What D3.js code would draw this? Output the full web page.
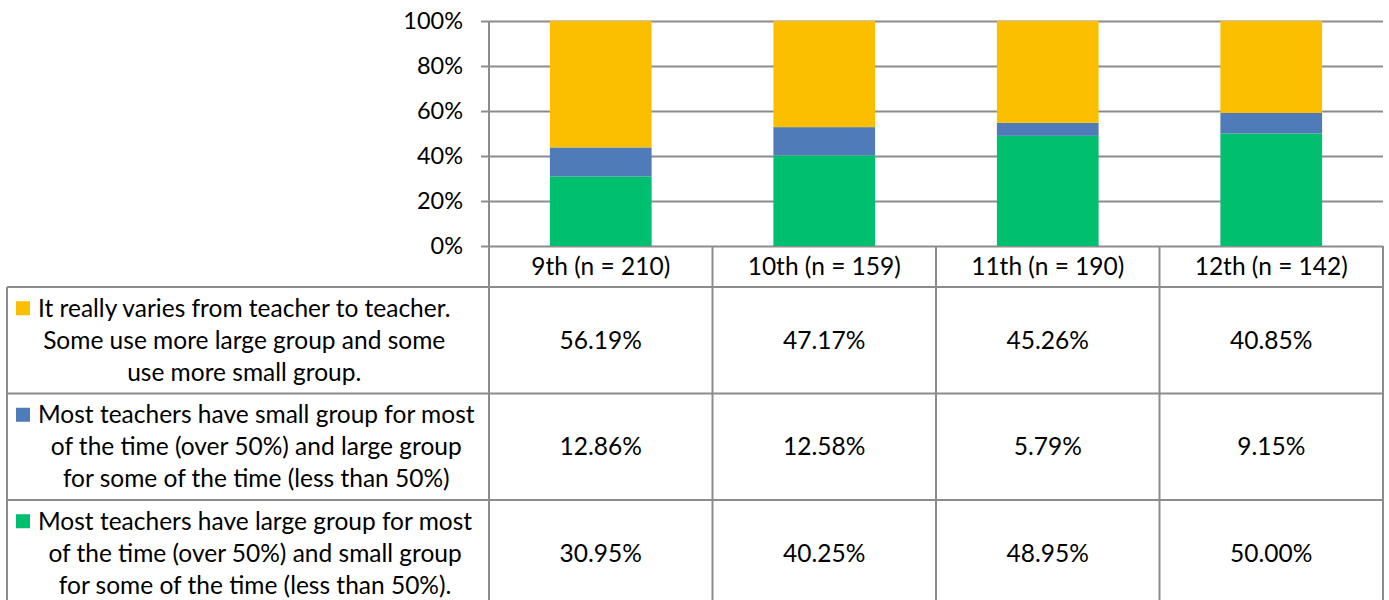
<!DOCTYPE html>
<html lang="en">
<head>
<meta charset="UTF-8">
<title>Group size by grade</title>
<style>
  body { margin: 0; background: #fff; }
  svg { display: block; font-family: Lato, "Open Sans", sans-serif; }
</style>
</head>
<body>
<div id="chart"></div>
<script src="https://d3js.org/d3.v7.min.js"></script>
<script>
// grades on the x axis
const categories = ["9th (n = 210)", "10th (n = 159)", "11th (n = 190)", "12th (n = 142)"];

// series values, percent
const variesValues = [56.19, 47.17, 45.26, 40.85];
const smallMostValues = [12.86, 12.58, 5.79, 9.15];
const largeMostValues = [30.95, 40.25, 48.95, 50.00];

// legend text, already wrapped like the original
const variesLabel = ["It really varies from teacher to teacher.", "Some use more large group and some", "use more small group."];
const smallMostLabel = ["Most teachers have small group for most", "of the time (over 50%) and large group", "for some of the time (less than 50%)"];
const largeMostLabel = ["Most teachers have large group for most", "of the time (over 50%) and small group", "for some of the time (less than 50%)."];

const yTicks = [0, 20, 40, 60, 80, 100];

const width = 1389, height = 600;
const plotLeft = 489, plotRight = 1383, plotTop = 21, plotBottom = 246;
const headerBottom = 287, rowH = 106.5, tableLeft = 7;
const lineColor = "#8c8c8c";
const fontSize = 24.5;

// bottom to top in the stack
const series = [
  { key: "large", values: largeMostValues, label: largeMostLabel, color: "#00bf6f" },
  { key: "small", values: smallMostValues, label: smallMostLabel, color: "#4f7cb8" },
  { key: "varies", values: variesValues, label: variesLabel, color: "#fbbf00" }
];

const rows = categories.map((c, i) => {
  const r = { cat: c };
  series.forEach(s => r[s.key] = s.values[i]);
  return r;
});

const svg = d3.select("#chart").append("svg")
  .attr("width", width)
  .attr("height", height);

const x = d3.scaleBand().domain(categories).range([plotLeft, plotRight]).paddingInner(0).paddingOuter(0);
const y = d3.scaleLinear().domain([0, 100]).range([plotBottom, plotTop]);
const barW = x.bandwidth() * 0.455;

// gridlines + y labels
const yAxis = svg.append("g")
  .attr("transform", `translate(${plotLeft},0)`)
  .call(d3.axisLeft(y).tickValues(yTicks).tickSize(-(plotRight - plotLeft)).tickPadding(26).tickFormat(d => d + "%"));
yAxis.select(".domain").remove();
yAxis.selectAll(".tick line").attr("x1", -8).attr("stroke", lineColor).attr("stroke-width", 2);
yAxis.selectAll(".tick text").attr("font-size", 23.5).attr("fill", "#000").attr("font-family", "Lato, sans-serif");

// stacked bars
const stacked = d3.stack().keys(series.map(s => s.key))(rows);
svg.append("g").selectAll("g")
  .data(stacked)
  .join("g")
    .attr("fill", (d, i) => series[i].color)
  .selectAll("rect")
  .data(d => d)
  .join("rect")
    .attr("x", d => x(d.data.cat) + (x.bandwidth() - barW) / 2)
    .attr("y", d => y(d[1]))
    .attr("width", barW)
    .attr("height", d => y(d[0]) - y(d[1]));

// data table
const table = svg.append("g");
const tableRows = series.slice().reverse();

// header text
table.selectAll(".hdr")
  .data(categories)
  .join("text")
    .attr("x", d => x(d) + x.bandwidth() / 2)
    .attr("y", (plotBottom + headerBottom) / 2)
    .attr("dy", "0.35em")
    .attr("text-anchor", "middle")
    .attr("font-size", fontSize)
    .text(d => d);

// horizontal lines
const hLines = [headerBottom, headerBottom + rowH, headerBottom + 2 * rowH];
table.selectAll(".hl")
  .data(hLines)
  .join("line")
    .attr("x1", tableLeft).attr("x2", plotRight)
    .attr("y1", d => d).attr("y2", d => d)
    .attr("stroke", lineColor).attr("stroke-width", 2);

// vertical lines
const vLines = categories.map(c => x(c)).concat([plotRight]);
table.selectAll(".vl")
  .data(vLines)
  .join("line")
    .attr("x1", d => d).attr("x2", d => d)
    .attr("y1", (d, i) => i === 0 ? plotTop : plotBottom).attr("y2", height)
    .attr("stroke", lineColor).attr("stroke-width", 2);
table.append("line")
  .attr("x1", tableLeft).attr("x2", tableLeft)
  .attr("y1", headerBottom).attr("y2", height)
  .attr("stroke", lineColor).attr("stroke-width", 2);

tableRows.forEach((s, ri) => {
  const cy = headerBottom + rowH * ri + rowH / 2;

  // values
  table.selectAll(".v" + ri)
    .data(s.values)
    .join("text")
      .attr("x", (d, i) => x(categories[i]) + x.bandwidth() / 2)
      .attr("y", cy)
      .attr("dy", "0.35em")
      .attr("text-anchor", "middle")
      .attr("font-size", fontSize)
      .text(d => d.toFixed(2) + "%");

  // legend key + wrapped label
  table.append("rect")
    .attr("x", 16).attr("y", cy - 39)
    .attr("width", 14).attr("height", 14)
    .attr("fill", s.color);

  const lab = table.append("g");
  const texts = lab.selectAll("text")
    .data(s.label)
    .join("text")
      .attr("y", (d, i) => cy + (i - 1) * 32)
      .attr("dy", "0.35em")
      .attr("text-anchor", "middle")
      .attr("font-size", fontSize)
      .text(d => d);
  let maxW = 0;
  texts.each(function() { maxW = Math.max(maxW, this.getComputedTextLength()); });
  texts.attr("x", 38 + maxW / 2);
});
</script>
</body>
</html>
